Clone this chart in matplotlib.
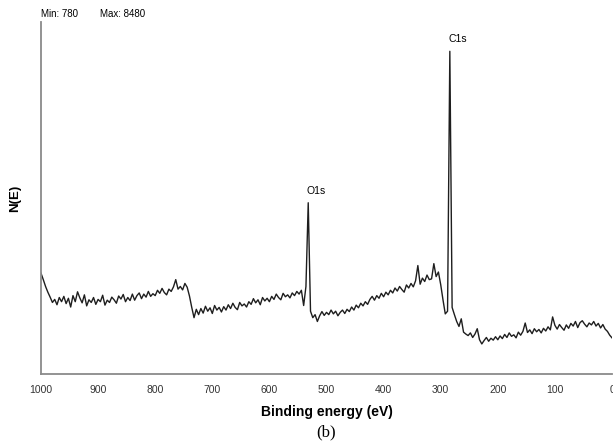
import numpy as np
import matplotlib
matplotlib.use("Agg")
import matplotlib.pyplot as plt

plt.rcParams['font.family'] = ['Liberation Sans', 'DejaVu Sans']

# Survey spectrum, counts every 4 eV, from 1000 eV down to 0 eV
counts = [
    2650, 2480, 2300, 2150, 2020, 1880, 1960, 1820, 2010, 1900,   # 1000
    2040, 1850, 1990, 1760, 2060, 1900, 2160, 2000, 1870, 2080,   # 960
    1790, 1950, 1880, 2010, 1830, 1960, 1900, 2070, 1810, 1940,   # 920
    1880, 2020, 1950, 1860, 2050, 1970, 2090, 1900, 2010, 1930,   # 880
    2100, 1940, 2060, 2130, 1980, 2100, 2020, 2170, 2040, 2110,   # 840
    2060, 2200, 2120, 2250, 2140, 2080, 2230, 2170, 2290, 2480,   # 800
    2230, 2300, 2210, 2380, 2280, 2050, 1750, 1480, 1700, 1560,   # 760
    1720, 1600, 1780, 1650, 1740, 1590, 1800, 1680, 1750, 1630,   # 720
    1770, 1680, 1820, 1720, 1860, 1750, 1690, 1880, 1790, 1840,   # 680
    1760, 1900, 1830, 1980, 1870, 1950, 1820, 2010, 1920, 1990,   # 640
    1900, 2040, 1960, 2100, 2010, 1950, 2120, 2030, 2080, 2000,   # 600
    2130, 2060, 2170, 2100, 2200, 1800, 2300, 4500, 1650, 1480,   # 560
    1560, 1380, 1530, 1640, 1540, 1620, 1560, 1680, 1580, 1650,   # 520
    1530, 1620, 1680, 1590, 1700, 1640, 1760, 1680, 1810, 1740,   # 480
    1860, 1790, 1900, 1830, 1960, 2040, 1940, 2060, 1990, 2120,   # 440
    2030, 2150, 2080, 2200, 2130, 2260, 2180, 2300, 2220, 2150,   # 400
    2340, 2260, 2380, 2290, 2450, 2850, 2360, 2520, 2430, 2600,   # 360
    2480, 2500, 2900, 2560, 2680, 2350, 1950, 1580, 1650, 8480,   # 320
    1750, 1560, 1380, 1250, 1450, 1100, 1050, 1010, 1080, 960,    # 280
    1050, 1190, 900, 790, 880, 960, 860, 940, 890, 980,           # 240
    900, 1000, 930, 1040, 960, 1080, 990, 1030, 950, 1100,        # 200
    1020, 1120, 1340, 1090, 1160, 1060, 1190, 1110, 1170, 1080,   # 160
    1200, 1130, 1240, 1160, 1500, 1280, 1180, 1300, 1220, 1150,   # 120
    1290, 1200, 1330, 1260, 1380, 1220, 1350, 1400, 1310, 1240,   # 80
    1340, 1290, 1380, 1260, 1330, 1210, 1300, 1180, 1120, 1020,   # 40
    950,                                                          # 0
]
start_ev = 1000
step_ev = 4
energy = start_ev - step_ev * np.arange(len(counts))

peak_labels = ["O1s", "C1s"]
peak_positions = [532, 284]
peak_heights = [4500, 8480]

x_ticks = [1000, 900, 800, 700, 600, 500, 400, 300, 200, 100, 0]
x_tick_labels = [str(t) for t in x_ticks]
min_text = "Min: 780"
max_text = "Max: 8480"

fig = plt.figure(figsize=(6.13, 4.43), dpi=100)
ax = fig.add_axes([41 / 613, 1 - 374 / 443, 571 / 613, (374 - 22) / 443])

ax.plot(energy, counts, color='#1e1e1e', lw=1.0)

ax.set_xlim(1000, 0)
ax.set_ylim(0, 9250)

for s in ['top', 'right']:
    ax.spines[s].set_visible(False)
for s in ['left', 'bottom']:
    ax.spines[s].set_color('#8a8a8a')
    ax.spines[s].set_linewidth(1.3)

ax.set_xticks(x_ticks)
ax.set_xticklabels(x_tick_labels, fontsize=7.5, color='#333333')
ax.tick_params(axis='x', length=0, pad=8)
ax.set_yticks([])

ax.set_xlabel("Binding energy (eV)", fontsize=10, fontweight='bold', labelpad=7)
ax.set_ylabel("N(E)", fontsize=9.5, fontweight='bold', labelpad=14)

for lab, pos, h in zip(peak_labels, peak_positions, peak_heights):
    ax.annotate(lab, xy=(pos, h), xytext=(-1, 5), textcoords='offset points',
                ha='left', va='bottom', fontsize=7.5)

fig.text(41 / 613, 1 - 14 / 443, min_text, fontsize=7, va='center', ha='left')
fig.text(100 / 613, 1 - 14 / 443, max_text, fontsize=7, va='center', ha='left')

fig.text(326 / 613, 1 - 432 / 443, "(b)", fontsize=12, ha='center', va='center',
         family=['Liberation Serif', 'DejaVu Serif'])

fig.savefig("out.png", dpi=100)
